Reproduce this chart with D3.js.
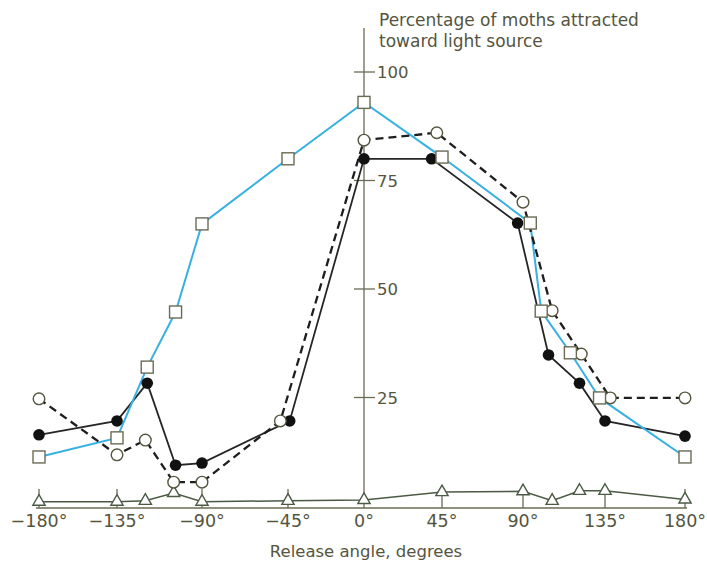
<!DOCTYPE html>
<html>
<head>
<meta charset="utf-8">
<script src="https://cdn.jsdelivr.net/npm/d3@7"></script>
<style>
  html, body { margin: 0; padding: 0; background: #fff; }
  svg { display: block; }
  text { font-family: "DejaVu Sans", sans-serif; fill: #55553f; }
</style>
</head>
<body>
<svg id="chart" width="707" height="562"></svg>
<script>
// ---- data ----
const tickAngles = [-180, -135, -90, -45, 0, 45, 90, 135, 180];
const tickLabels = ["\u2212180\u00b0", "\u2212135\u00b0", "\u221290\u00b0", "\u221245\u00b0", "0\u00b0", "45\u00b0", "90\u00b0", "135\u00b0", "180\u00b0"];
const yTicks = [25, 50, 75, 100];

const squareAngles = [-180, -135, -119, -104, -90, -45, 0, 45, 94, 100, 116, 132, 180];
const squareValues = [11.3, 15.7, 32, 44.7, 65, 80, 93, 80.4, 65.2, 44.9, 35.3, 24.9, 11.3];

const filledAngles = [-180, -135, -119, -104, -90, -44, 0, 39, 87, 104, 121, 135, 180];
const filledValues = [16.4, 19.6, 28.3, 9.4, 9.9, 19.6, 80, 80, 65.2, 34.8, 28.3, 19.6, 16.1];

const openAngles = [-180, -135, -120, -105, -90, -49, 0, 42, 90, 106, 122, 138, 180];
const openValues = [24.7, 11.8, 15.2, 5.5, 5.5, 19.6, 84.3, 86, 70, 45, 35, 24.9, 24.9];

const triAngles = [-180, -135, -120, -105, -90, -45, 0, 45, 90, 106, 121, 135, 180];
const triValues = [1, 1, 1.2, 3, 1, 1.2, 1.4, 3.2, 3.4, 1.2, 3.5, 3.5, 1.5];

const yTitle = ["Percentage of moths attracted", "toward light source"];
const xTitle = "Release angle, degrees";

// ---- scales ----
const x = d3.scaleLinear().domain(tickAngles).range([39, 117, 202, 288, 364, 442, 523, 605, 685]);
const y = d3.scaleLinear().domain([0, 100]).range([506, 72]);

const svg = d3.select("#chart");
const axisColor = "#6b6b55";

// x axis line
svg.append("line").attr("x1", x(-180) - 3).attr("x2", x(180) + 2)
  .attr("y1", y(0) + 2).attr("y2", y(0) + 2)
  .attr("stroke", axisColor).attr("stroke-width", 1.3);
// x ticks
tickAngles.filter(a => a !== 0).forEach(a => {
  svg.append("line").attr("x1", x(a)).attr("x2", x(a))
    .attr("y1", y(0) + 2).attr("y2", y(0) - 17)
    .attr("stroke", axisColor).attr("stroke-width", 1.3);
});
// x labels
svg.selectAll("text.xl").data(tickAngles).enter().append("text")
  .attr("class", "xl")
  .attr("x", d => x(d)).attr("y", 527)
  .attr("text-anchor", "middle")
  .attr("font-size", 17.5)
  .text((d, i) => tickLabels[i]);

// y axis line
svg.append("line").attr("x1", x(0)).attr("x2", x(0))
  .attr("y1", 28).attr("y2", y(0) + 2)
  .attr("stroke", axisColor).attr("stroke-width", 1.3);
yTicks.forEach(v => {
  svg.append("line").attr("x1", x(0) - 10).attr("x2", x(0) + 11)
    .attr("y1", y(v)).attr("y2", y(v))
    .attr("stroke", axisColor).attr("stroke-width", 1.3);
  svg.append("text").attr("x", x(0) + 13).attr("y", y(v) + 6)
    .attr("font-size", 16.5).text(v);
});

// titles
svg.append("text").attr("x", 379).attr("y", 26).attr("font-size", 17).text(yTitle[0]);
svg.append("text").attr("x", 379).attr("y", 47).attr("font-size", 17).text(yTitle[1]);
svg.append("text").attr("x", 366).attr("y", 557).attr("text-anchor", "middle")
  .attr("font-size", 16.5).text(xTitle);

// ---- series ----
const zip = (a, b) => a.map((v, i) => [v, b[i]]);
const line = d3.line().x(d => x(d[0])).y(d => y(d[1]));

const squares = zip(squareAngles, squareValues);
const filled = zip(filledAngles, filledValues);
const open = zip(openAngles, openValues);
const tris = zip(triAngles, triValues);

svg.append("path").datum(tris).attr("d", line)
  .attr("fill", "none").attr("stroke", "#4a5a44").attr("stroke-width", 1.5);
svg.append("path").datum(filled).attr("d", line)
  .attr("fill", "none").attr("stroke", "#262626").attr("stroke-width", 1.8);
svg.append("path").datum(squares).attr("d", line)
  .attr("fill", "none").attr("stroke", "#38b0e2").attr("stroke-width", 2);
svg.append("path").datum(open).attr("d", line)
  .attr("fill", "none").attr("stroke", "#1e1e1e").attr("stroke-width", 2.3)
  .attr("stroke-dasharray", "8,5");

// markers
svg.selectAll("path.tri").data(tris).enter().append("path")
  .attr("class", "tri")
  .attr("d", d3.symbol().type(d3.symbolTriangle).size(65))
  .attr("transform", d => `translate(${x(d[0])},${y(d[1])})`)
  .attr("fill", "#fff").attr("stroke", "#4a5a44").attr("stroke-width", 1.4);

svg.selectAll("circle.filled").data(filled).enter().append("circle")
  .attr("class", "filled")
  .attr("cx", d => x(d[0])).attr("cy", d => y(d[1])).attr("r", 5.8)
  .attr("fill", "#111");

svg.selectAll("circle.open").data(open).enter().append("circle")
  .attr("class", "open")
  .attr("cx", d => x(d[0])).attr("cy", d => y(d[1])).attr("r", 5.8)
  .attr("fill", "#fff").attr("stroke", "#55553f").attr("stroke-width", 1.4);

svg.selectAll("rect.sq").data(squares).enter().append("rect")
  .attr("class", "sq")
  .attr("x", d => x(d[0]) - 6).attr("y", d => y(d[1]) - 6)
  .attr("width", 12).attr("height", 12)
  .attr("fill", "#fff").attr("stroke", "#6b6b55").attr("stroke-width", 1.4);
</script>
</body>
</html>
